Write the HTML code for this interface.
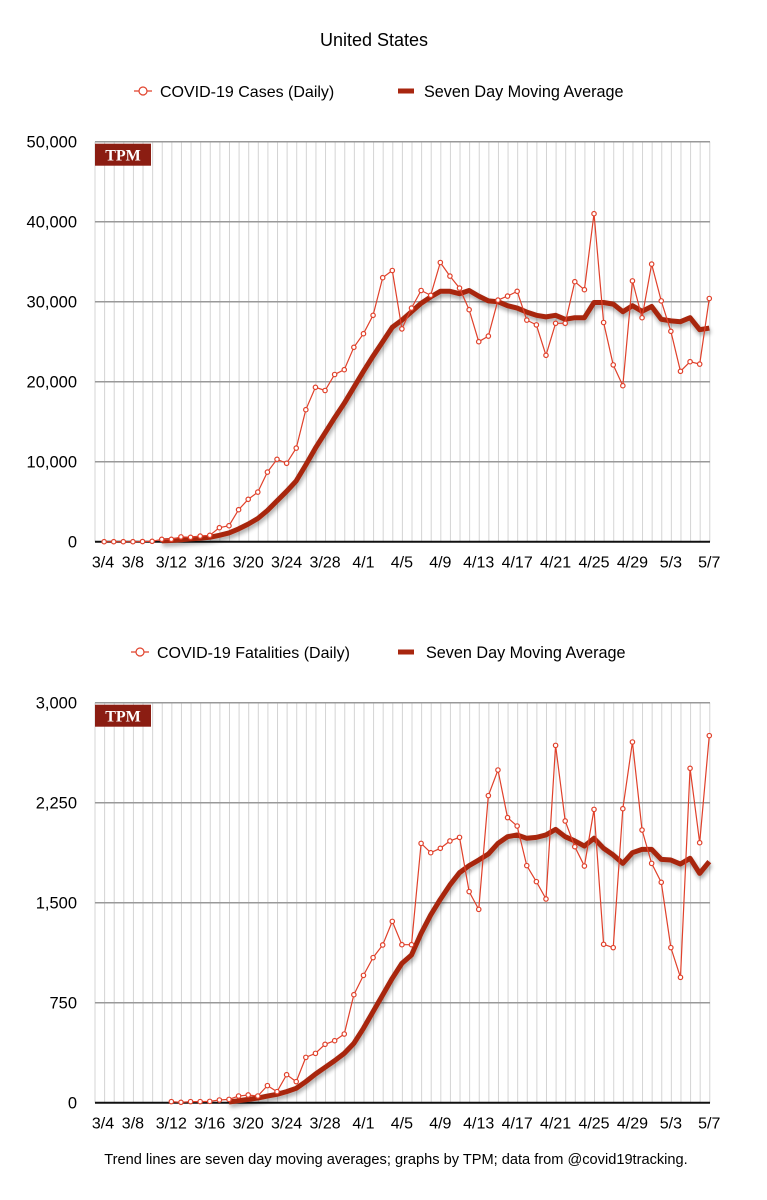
<!DOCTYPE html>
<html><head><meta charset="utf-8">
<style>
body{margin:0;background:#fff;}
svg{display:block;font-family:"Liberation Sans",Arial,sans-serif;}
</style></head>
<body>
<svg id="s" width="767" height="1200" viewBox="0 0 767 1200">
<defs>
<filter id="sh" x="-5%" y="-5%" width="110%" height="120%"><feGaussianBlur in="SourceAlpha" stdDeviation="2"/><feOffset dx="1" dy="3"/><feComponentTransfer><feFuncA type="linear" slope="0.35"/></feComponentTransfer><feMerge><feMergeNode/><feMergeNode in="SourceGraphic"/></feMerge></filter>
</defs>
<text x="374" y="46" font-size="18" text-anchor="middle">United States</text>
<text x="396" y="1164" font-size="14.6" text-anchor="middle">Trend lines are seven day moving averages; graphs by TPM; data from @covid19tracking.</text>
</svg>
<script>
const xLabels=["3/4","3/8","3/12","3/16","3/20","3/24","3/28","4/1","4/5","4/9","4/13","4/17","4/21","4/25","4/29","5/3","5/7"];
const caseDays=[1,2,3,4,5,6,7,8,9,10,11,12,13,14,15,16,17,18,19,20,21,22,23,24,25,26,27,28,29,30,31,32,33,34,35,36,37,38,39,40,41,42,43,44,45,46,47,48,49,50,51,52,53,54,55,56,57,58,59,60,61,62,63,64];
const casesDaily=[0,0,0,0,20,50,300,300,600,550,700,800,1750,2000,4000,5300,6200,8700,10300,9800,11700,16500,19300,18900,20900,21500,24300,26000,28300,33000,33900,26600,29200,31400,30800,34900,33200,31700,29000,25000,25700,30200,30700,31300,27700,27100,23300,27300,27300,32500,31500,41000,27400,22100,19500,32600,28000,34700,30100,26300,21300,22500,22200,30400];
const caseAvgDays=[7,8,9,10,11,12,13,14,15,16,17,18,19,20,21,22,23,24,25,26,27,28,29,30,31,32,33,34,35,36,37,38,39,40,41,42,43,44,45,46,47,48,49,50,51,52,53,54,55,56,57,58,59,60,61,62,63,64];
const casesAvg=[100,150,250,350,450,550,800,1100,1600,2200,2900,3900,5100,6300,7600,9600,11700,13600,15500,17300,19300,21300,23200,25000,26800,27700,28750,29800,30600,31300,31300,31000,31400,30700,30100,30000,29500,29200,28700,28300,28100,28300,27800,28000,28000,29900,29900,29700,28750,29500,28800,29400,27800,27600,27500,28000,26500,26700];
const deathDays=[8,9,10,11,12,13,14,15,16,17,18,19,20,21,22,23,24,25,26,27,28,29,30,31,32,33,34,35,36,37,38,39,40,41,42,43,44,45,46,47,48,49,50,51,52,53,54,55,56,57,58,59,60,61,62,63,64];
const deathsDaily=[8,3,8,8,10,20,25,50,58,50,128,83,210,158,340,370,438,465,515,810,955,1088,1183,1360,1185,1185,1945,1875,1908,1963,1990,1583,1450,2303,2495,2138,2075,1778,1658,1528,2680,2113,1920,1775,2200,1188,1163,2205,2705,2045,1795,1653,1163,940,2508,1950,2753];
const deathAvgDays=[14,15,16,17,18,19,20,21,22,23,24,25,26,27,28,29,30,31,32,33,34,35,36,37,38,39,40,41,42,43,44,45,46,47,48,49,50,51,52,53,54,55,56,57,58,59,60,61,62,63,64];
const deathsAvg=[5,15,25,35,50,63,83,108,158,215,265,315,370,445,558,683,808,933,1045,1108,1270,1408,1525,1633,1725,1778,1820,1865,1945,1995,2008,1983,1990,2008,2050,1995,1963,1925,1983,1908,1858,1795,1875,1900,1900,1825,1820,1790,1833,1720,1808];
const caseTicks=[0,10000,20000,30000,40000,50000];
const deathTicks=[0,750,1500,2250,3000];

const NS="http://www.w3.org/2000/svg";
const svg=document.getElementById('s');
function mk(tag,attrs,parent){const e=document.createElementNS(NS,tag);for(const k in attrs)e.setAttribute(k,attrs[k]);(parent||svg).appendChild(e);return e;}
const X0=94.5,DX=9.606,XL=95,XR=710;
function xs(d){return X0+DX*d;}
function fmt(v){return v.toLocaleString('en-US');}

function chart(cfg){
  const g=mk('g',{});
  
  
  const ys=v=>cfg.y0-(v/cfg.max)*(cfg.y0-cfg.y1);
  for(let d=0;d<=64;d++){
    const l=mk('line',{x1:xs(d)+0.5,x2:xs(d)+0.5,y1:cfg.y1,y2:cfg.y0,stroke:'#d4d4d4','stroke-width':1},g);
    
    
  }
  cfg.ticks.forEach(t=>{
    const y=ys(t);
    const l=mk('line',{x1:XL,x2:XR,y1:y,y2:y,stroke:t===0?'#111':'#999','stroke-width':t===0?2:1.5},g);
    
    
    const tx=mk('text',{x:77,y:y+6,'font-size':16.5,'text-anchor':'end'},g);
    tx.textContent=fmt(t);
    
    
  });
  xLabels.forEach((s,i)=>{
    const d=i*4;
    const tx=mk('text',{x:d===0?103:xs(d),y:cfg.y0+26,'font-size':16,'text-anchor':'middle'},g);
    tx.textContent=s;
    
    
  });
  const b=mk('g',{},g);
  
  
  mk('rect',{x:95,y:cfg.y1+2,width:56,height:22,fill:'#8b1d12'},b);
  const bt=mk('text',{x:123,y:cfg.y1+19,'font-size':16,'font-weight':'bold','text-anchor':'middle',fill:'#fff','font-family':'"Liberation Serif",serif'},b);
  bt.textContent='TPM';
  const ap=cfg.avgDays.map((d,i)=>xs(d)+','+ys(cfg.avg[i])).join(' ');
  const al=mk('polyline',{points:ap,fill:'none',stroke:'#a8260f','stroke-width':5,'stroke-linejoin':'round',filter:'url(#sh)'},g);
  
  
  const dp=cfg.days.map((d,i)=>xs(d)+','+ys(cfg.daily[i])).join(' ');
  const dl=mk('polyline',{points:dp,fill:'none',stroke:'#e0412b','stroke-width':1.2},g);
  
  
  cfg.days.forEach((d,i)=>{
    const c=mk('circle',{cx:xs(d),cy:ys(cfg.daily[i]),r:2.2,fill:'#fff',stroke:'#e0412b','stroke-width':1.2},g);
    
    
  });
  const lg=mk('g',{},g);
  
  
  mk('line',{x1:cfg.lx-9,x2:cfg.lx+9,y1:cfg.ly,y2:cfg.ly,stroke:'#e0412b','stroke-width':1.2},lg);
  mk('circle',{cx:cfg.lx,cy:cfg.ly,r:4,fill:'#fff',stroke:'#e0412b','stroke-width':1.2},lg);
  const t1=mk('text',{x:cfg.lx+17,y:cfg.ly+6,'font-size':16},lg);
  t1.textContent=cfg.label;
  
  
  mk('line',{x1:398,x2:414,y1:cfg.ly,y2:cfg.ly,stroke:'#a8260f','stroke-width':5},lg);
  const t2=mk('text',{x:cfg.l2x,y:cfg.ly+6,'font-size':16.2},lg);
  t2.textContent='Seven Day Moving Average';
  
  
}
chart({name:'cases-chart',y0:541.7,y1:141.7,max:50000,ticks:caseTicks,days:caseDays,daily:casesDaily,avgDays:caseAvgDays,avg:casesAvg,lx:143,ly:91,label:'COVID-19 Cases (Daily)',l2x:424});
chart({name:'fatalities-chart',y0:1102.7,y1:702.7,max:3000,ticks:deathTicks,days:deathDays,daily:deathsDaily,avgDays:deathAvgDays,avg:deathsAvg,lx:140,ly:652,label:'COVID-19 Fatalities (Daily)',l2x:426});
</script>
</body></html>
